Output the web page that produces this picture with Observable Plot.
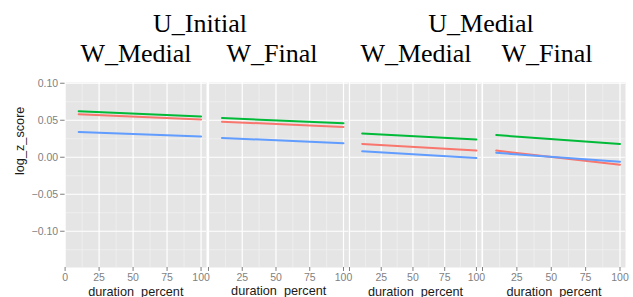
<!DOCTYPE html>
<html>
<head>
<meta charset="utf-8">
<script src="https://cdn.jsdelivr.net/npm/d3@7"></script>
<script src="https://cdn.jsdelivr.net/npm/@observablehq/plot@0.6"></script>
<style>
  html, body { margin: 0; padding: 0; background: #fff; }
  #chart { position: relative; width: 633px; height: 297px; overflow: hidden; }
  #chart svg { position: absolute; left: 0; top: 0; }
</style>
</head>
<body>
<div id="chart"></div>
<script>
// ---------- data ----------
const uGroups = ["U_Initial", "U_Medial"];
const wGroups = ["W_Medial", "W_Final"];
const seriesNames = ["S1", "S2", "S3"];
const durationPercent = [10, 100];           // start / end of each fitted line
// values per panel: [U_Initial/W_Medial, U_Initial/W_Final, U_Medial/W_Medial, U_Medial/W_Final]
const s1Values = [[0.058, 0.051], [0.048, 0.041], [0.018, 0.009], [0.009, -0.010]];
const s2Values = [[0.062, 0.055], [0.053, 0.046], [0.032, 0.024], [0.030, 0.018]];
const s3Values = [[0.034, 0.028], [0.026, 0.019], [0.008, -0.001], [0.006, -0.006]];
const xTicks = [0, 25, 50, 75, 100];
const xMinor = [12.5, 37.5, 62.5, 87.5];
const yTicks = [-0.10, -0.05, 0.00, 0.05, 0.10];
const yMinor = [-0.125, -0.075, -0.025, 0.025, 0.075];
const xLabel = "duration_percent";
const yLabel = "log_z_score";

// ---------- layout ----------
const colors = ["#F8766D", "#00BA38", "#619CFF"];
const panelLeft  = [64.6, 208, 349, 482];
const panelWidth = [141.4, 140.4, 132, 143];
const headerRow1X = [200, 481];
const headerRow2X = [136, 272, 416, 547];

const valueSets = [s1Values, s2Values, s3Values];
const chart = document.getElementById("chart");

for (let p = 0; p < 4; p++) {
  const rows = [];
  seriesNames.forEach((s, si) => {
    durationPercent.forEach((d, di) => {
      rows.push({series: s, duration: d, score: valueSets[si][p][di]});
    });
  });
  const marks = [
    Plot.frame({fill: "#E5E5E5", stroke: "none"}),
    Plot.gridY(yMinor, {stroke: "#F2F2F2", strokeOpacity: 1, strokeWidth: 0.7}),
    Plot.gridX(xMinor, {stroke: "#F2F2F2", strokeOpacity: 1, strokeWidth: 0.7}),
    Plot.gridY(yTicks, {stroke: "#FFFFFF", strokeOpacity: 1, strokeWidth: 1.2}),
    Plot.gridX(xTicks, {stroke: "#FFFFFF", strokeOpacity: 1, strokeWidth: 1.2}),
    Plot.line(rows, {x: "duration", y: "score", z: "series", stroke: "series", strokeWidth: 2}),
    Plot.axisX(xTicks, {
      tickSize: 4, tickPadding: 2.5, fontSize: 10.5, color: "#7F7F7F",
      tickFormat: d => (p > 0 && d === 0) ? "" : String(d), label: null
    }),
    Plot.text([xLabel], {frameAnchor: "bottom", dy: 28, lineAnchor: "bottom", fontSize: 12.7, fill: "#1A1A1A"})
  ];
  if (p === 0) {
    marks.push(
      Plot.axisY(yTicks, {
        tickSize: 4.5, tickPadding: 2.5, fontSize: 10.5, color: "#7F7F7F",
        tickFormat: d3.format(".2f"), label: null
      }),
      Plot.text([yLabel], {frameAnchor: "left", rotate: -90, dx: -45.5, fontSize: 12.7, fill: "#1A1A1A"})
    );
  }
  const svg = Plot.plot({
    width: panelLeft[p] + panelWidth[p],
    height: 297,
    marginLeft: panelLeft[p],
    marginRight: 0,
    marginTop: 82,
    marginBottom: 30,
    x: {domain: [0, 104], axis: null},
    y: {domain: [-0.149, 0.101], axis: null},
    color: {domain: seriesNames, range: colors},
    style: {background: "transparent", overflow: "visible", fontFamily: "'Liberation Sans', Arial, sans-serif"},
    marks
  });
  chart.appendChild(svg);
}

// ---------- facet headers ----------
const head = d3.create("svg").attr("width", 633).attr("height", 70)
  .style("font-family", "'Liberation Serif', 'Times New Roman', serif")
  .style("font-size", "26px");
head.selectAll("text.u").data(uGroups).join("text")
  .attr("x", (d, i) => headerRow1X[i]).attr("y", 32)
  .attr("text-anchor", "middle").attr("fill", "#000").text(d => d);
const row2 = [...uGroups.flatMap(() => wGroups)];
head.selectAll("text.w").data(row2).join("text")
  .attr("x", (d, i) => headerRow2X[i]).attr("y", 62)
  .attr("text-anchor", "middle").attr("fill", "#000").text(d => d);
chart.appendChild(head.node());
</script>
</body>
</html>
